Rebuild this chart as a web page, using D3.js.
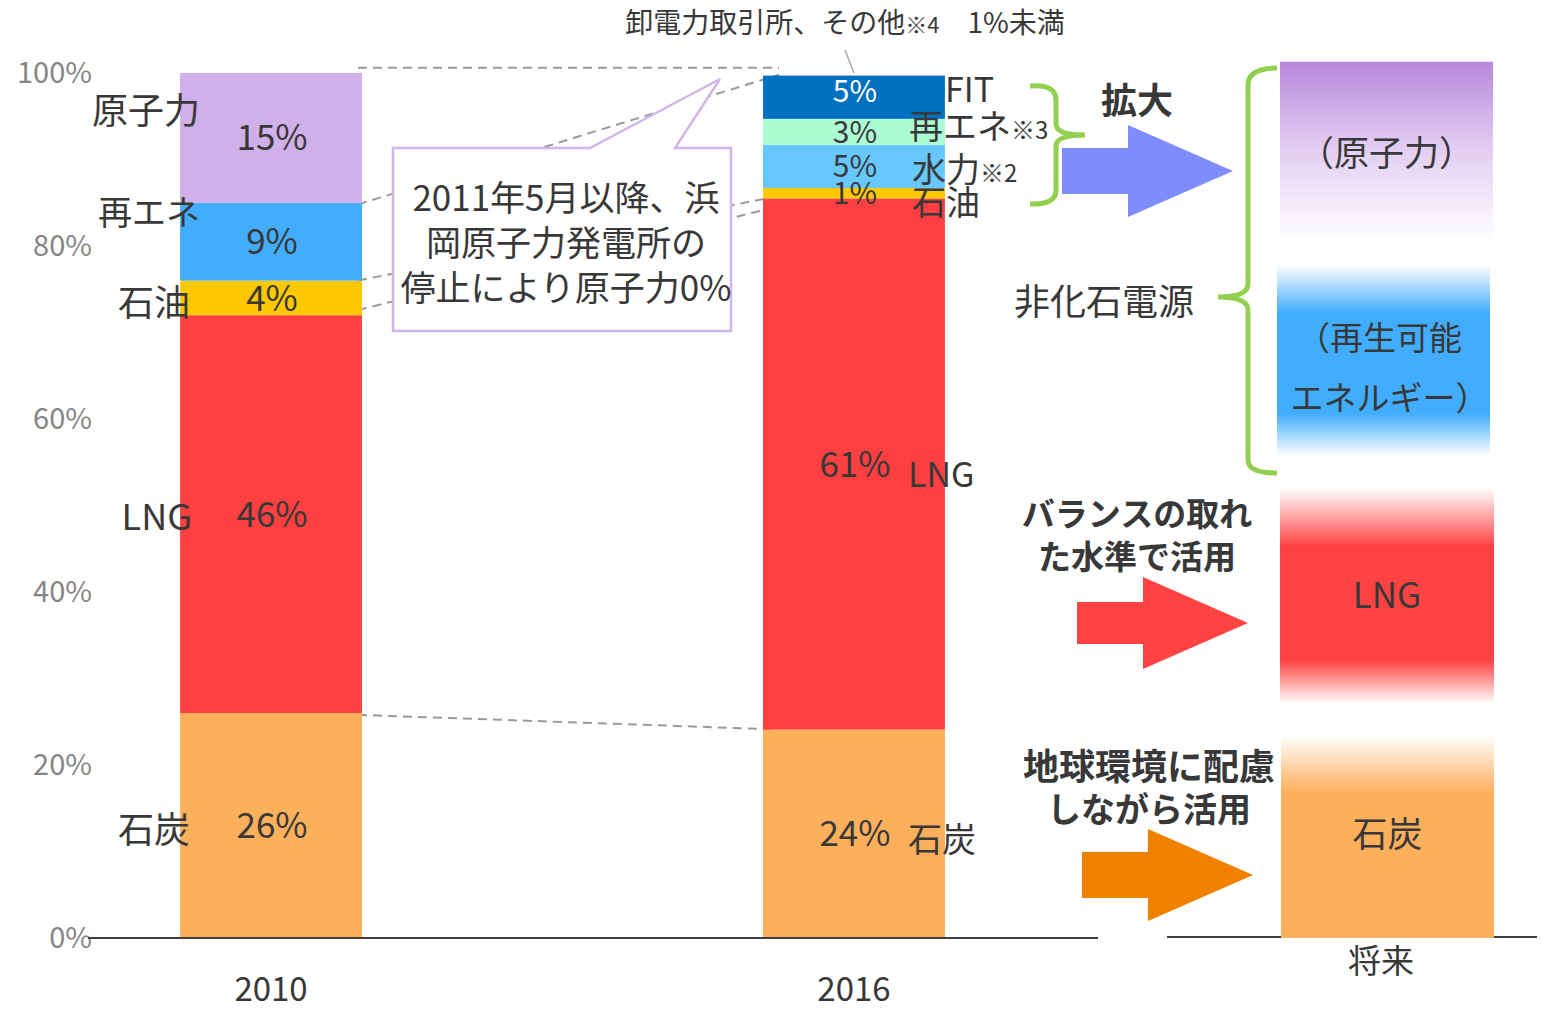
<!DOCTYPE html>
<meta charset="utf-8">
<script src="https://d3js.org/d3.v7.min.js"></script>
<style>
  body { margin: 0; background: #fff; }
  text { font-family: "Noto Sans CJK JP", "Noto Sans", sans-serif; fill: #383838; }
</style>
<div id="chart"></div>
<script>

// data: share of generation by source (%)
const years = ["2010", "2016"];
const keys = ["coal", "lng", "oil", "renew", "nuclear", "hydro", "renew3", "fit"];
const values2010 = [26, 46, 4, 9, 15, 0, 0, 0];
const values2016 = [24.1, 61.4, 1.2, 0, 0, 5, 3, 5];
const yTicks = [0, 20, 40, 60, 80, 100];
const futureLabels = ["（原子力）", "（再生可能|エネルギー）", "LNG", "石炭"];

const colors = {
  coal: "#fdb05c", lng: "#ff4040", oil: "#ffc800", renew: "#42adfd",
  nuclear: "#d0b0e8", hydro: "#66c8fe", renew3: "#adfdd4", fit: "#0070c0"
};

const W = 1542, H = 1010;
const svg = d3.select("#chart").append("svg")
  .attr("width", W).attr("height", H);

const y = d3.scaleLinear().domain([0, 100]).range([938, 73]);
const x = d3.scaleBand().domain(years).range([88, 1037])
  .paddingInner(0.688).paddingOuter(0.158);

// y axis
const yAxis = svg.append("g")
  .attr("transform", "translate(92,0)")
  .call(d3.axisLeft(y).tickValues(yTicks).tickFormat(d => d + "%").tickSize(0).tickPadding(0));
yAxis.select(".domain").remove();
yAxis.selectAll("text")
  .style("font-family", '"Noto Sans CJK JP", sans-serif')
  .style("font-size", "29px").style("fill", "#858585");

// stacked data
const rows = years.map((yr, i) => {
  const vals = i === 0 ? values2010 : values2016;
  const o = { year: yr };
  keys.forEach((k, j) => o[k] = vals[j]);
  return o;
});
const series = d3.stack().keys(keys)(rows);

// dashed connectors between bars (cumulative %: 2010 side -> 2016 side)
const connectors = [[100.6, 100.6], [84.8, 99.8], [76, 85.8], [72.6, 84.6], [25.8, 24.1]];
svg.append("g").selectAll("line").data(connectors).join("line")
  .attr("x1", x("2010") + x.bandwidth() - 4).attr("x2", x("2016") + 16)
  .attr("y1", d => y(d[0])).attr("y2", d => y(d[1]))
  .attr("stroke", "#9a9a9a").attr("stroke-width", 2).attr("stroke-dasharray", "9,6");

// bars
svg.append("g").selectAll("g").data(series).join("g")
  .attr("fill", d => colors[d.key])
  .selectAll("rect").data(d => d.filter(s => s[1] - s[0] > 0)).join("rect")
  .attr("x", d => x(d.data.year))
  .attr("y", d => y(d[1]))
  .attr("width", x.bandwidth())
  .attr("height", d => y(d[0]) - y(d[1]));

// value labels inside bars
const valLabels = [];
series.forEach(s => s.forEach(d => {
  const v = d[1] - d[0];
  if (v > 0) valLabels.push({ key: s.key, year: d.data.year, v, mid: (d[0] + d[1]) / 2 });
}));
svg.append("g").selectAll("text").data(valLabels).join("text")
  .attr("x", d => x(d.year) + x.bandwidth() / 2 + 1)
  .attr("y", d => y(d.mid) + (d.key === "fit" ? -6 : 0))
  .attr("dy", "0.36em")
  .attr("text-anchor", "middle")
  .attr("font-size", d => d.year === "2016" && d.v < 10 ? 30 : 35)
  .style("fill", d => d.key === "fit" ? "#fff" : "#383838")
  .text(d => Math.round(d.v) + "%");

// category labels, 2010 (left side)
const left = [
  { t: "原子力", yy: 111, x: 200 }, { t: "再エネ", yy: 213, x: 200 },
  { t: "石油", yy: 303, x: 190 }, { t: "LNG", yy: 517, x: 192 }, { t: "石炭", yy: 830, x: 190 }
];
svg.append("g").selectAll("text").data(left).join("text")
  .attr("x", d => d.x).attr("y", d => d.yy).attr("dy", "0.36em")
  .attr("text-anchor", "end").attr("font-size", d => d.t === "再エネ" ? 34 : 36).text(d => d.t);

// category labels, 2016 (right side)
const right = [
  { t: "FIT", s: "", yy: 90, x: 945 }, { t: "再エネ", s: "※3", yy: 127, x: 909 },
  { t: "水力", s: "※2", yy: 170, x: 912 }, { t: "石油", s: "", yy: 203, x: 912 },
  { t: "LNG", s: "", yy: 475, x: 908 }, { t: "石炭", s: "", yy: 840, x: 908 }
];
const rt = svg.append("g").selectAll("text").data(right).join("text")
  .attr("x", d => d.x).attr("y", d => d.yy).attr("dy", "0.36em").attr("font-size", 34);
rt.append("tspan").text(d => d.t);
rt.append("tspan").attr("font-size", 24).text(d => d.s);

// top note with leader
svg.append("line").attr("x1", 845).attr("y1", 50).attr("x2", 854).attr("y2", 73)
  .attr("stroke", "#a6a6a6").attr("stroke-width", 1.5);
const note = svg.append("text").attr("x", 845).attr("y", 23).attr("dy", "0.36em")
  .attr("text-anchor", "middle").attr("font-size", 28);
note.append("tspan").text("卸電力取引所、その他");
note.append("tspan").attr("font-size", 22).text("※4");
note.append("tspan").text("　1%未満");

// callout
svg.append("path")
  .attr("d", "M393,148 L590,148 L720,79 L675,148 L731,148 L731,331 L393,331 Z")
  .attr("fill", "#fff").attr("stroke", "#d3b5ea").attr("stroke-width", 2.5);
svg.append("g").selectAll("text")
  .data(["2011年5月以降、浜", "岡原子力発電所の", "停止により原子力0%"]).join("text")
  .attr("x", 566).attr("y", (d, i) => 198 + i * 45).attr("dy", "0.36em")
  .attr("text-anchor", "middle").attr("font-size", 35).text(d => d);

// baseline
svg.append("line").attr("x1", 88).attr("x2", 1098).attr("y1", y(0)).attr("y2", y(0))
  .attr("stroke", "#404040").attr("stroke-width", 2);
svg.append("line").attr("x1", 1167).attr("x2", 1537).attr("y1", y(0) - 1).attr("y2", y(0) - 1)
  .attr("stroke", "#404040").attr("stroke-width", 2);

// x labels
svg.append("g").selectAll("text").data(years).join("text")
  .attr("x", d => x(d) + x.bandwidth() / 2).attr("y", 989).attr("dy", "0.36em")
  .attr("text-anchor", "middle").attr("font-size", 33).text(d => d);
svg.append("text").attr("x", 1381).attr("y", 961).attr("dy", "0.36em")
  .attr("text-anchor", "middle").attr("font-size", 33).text("将来");

// future column: gradient blocks
const defs = svg.append("defs");
const grads = [
  { id: "gNuc", stops: [[0, "#b987dc"], [0.45, "#e2cdf2"], [0.95, "#ffffff"]] },
  { id: "gRen", stops: [[0, "#ffffff"], [0.25, "#42adfd"], [0.78, "#42adfd"], [1, "#ffffff"]] },
  { id: "gLng", stops: [[0, "#ffffff"], [0.27, "#ff4343"], [0.8, "#ff4343"], [1, "#ffffff"]] },
  { id: "gCoal", stops: [[0, "#ffffff"], [0.28, "#fdb05c"], [1, "#fdb05c"]] }
];
grads.forEach(g => {
  const lg = defs.append("linearGradient").attr("id", g.id)
    .attr("x1", 0).attr("y1", 0).attr("x2", 0).attr("y2", 1);
  g.stops.forEach(s => lg.append("stop").attr("offset", s[0]).attr("stop-color", s[1]));
});
const blocks = [
  { g: "gNuc", top: 101.3, bot: 79.3, x0: 1280, x1: 1493, label: futureLabels[0], dy: -4 },
  { g: "gRen", top: 77.8, bot: 55.8, x0: 1277, x1: 1490, label: futureLabels[1], dy: 8 },
  { g: "gLng", top: 52.0, bot: 27.1, x0: 1280, x1: 1494, label: futureLabels[2], dy: 0 },
  { g: "gCoal", top: 23.4, bot: 0, x0: 1281, x1: 1494, label: futureLabels[3], dy: -2 }
];
svg.append("g").selectAll("rect").data(blocks).join("rect")
  .attr("x", d => d.x0).attr("width", d => d.x1 - d.x0)
  .attr("y", d => y(d.top)).attr("height", d => y(d.bot) - y(d.top))
  .attr("fill", d => `url(#${d.g})`);
blocks.forEach(b => {
  const lines = b.label.split("|");
  const cy = (y(b.top) + y(b.bot)) / 2 + b.dy;
  lines.forEach((l, i) => {
    svg.append("text").attr("x", (b.x0 + b.x1) / 2 + (b.g === "gRen" ? (i ? 6 : -4) : 0))
      .attr("y", cy + (i - (lines.length - 1) / 2) * 60).attr("dy", "0.36em")
      .attr("text-anchor", "middle").attr("font-size", b.g === "gRen" ? 33 : 35).text(l);
  });
});

// braces
svg.append("path")
  .attr("d", "M1030,86 Q1056,84 1056,100 L1056,124 Q1056,135 1085,135 Q1056,135 1056,146 L1056,190 Q1056,205 1030,204")
  .attr("fill", "none").attr("stroke", "#92d050").attr("stroke-width", 5);
svg.append("path")
  .attr("d", "M1277,68 Q1248,68 1248,85 L1248,284 Q1248,297 1218,297 Q1248,297 1248,310 L1248,460 Q1248,473 1277,473")
  .attr("fill", "none").attr("stroke", "#92d050").attr("stroke-width", 5);

// arrows
function arrow(x0, xh, tip, cy, sh, hh) {
  return `M${x0},${cy - sh} L${xh},${cy - sh} L${xh},${cy - hh} L${tip},${cy} L${xh},${cy + hh} L${xh},${cy + sh} L${x0},${cy + sh} Z`;
}
svg.append("path").attr("d", arrow(1062, 1128, 1233, 171, 23, 46)).attr("fill", "#7f8cfb");
svg.append("path").attr("d", arrow(1077, 1143, 1248, 623, 21, 46)).attr("fill", "#ff4343");
svg.append("path").attr("d", arrow(1082, 1148, 1253, 875, 23, 46)).attr("fill", "#f08000");

// side notes
const bold = [
  { t: "拡大", x: 1137, yy: 101, fs: 36 },
  { t: "バランスの取れ", x: 1137, yy: 514, fs: 33 },
  { t: "た水準で活用", x: 1137, yy: 557, fs: 33 },
  { t: "地球環境に配慮", x: 1149, yy: 767, fs: 36 },
  { t: "しながら活用", x: 1149, yy: 810, fs: 34 }
];
svg.append("g").selectAll("text").data(bold).join("text")
  .attr("x", d => d.x).attr("y", d => d.yy).attr("dy", "0.36em")
  .attr("text-anchor", "middle").attr("font-size", d => d.fs).attr("font-weight", "bold").text(d => d.t);
svg.append("text").attr("x", 1104).attr("y", 302).attr("dy", "0.36em")
  .attr("text-anchor", "middle").attr("font-size", 36).text("非化石電源");

</script>
